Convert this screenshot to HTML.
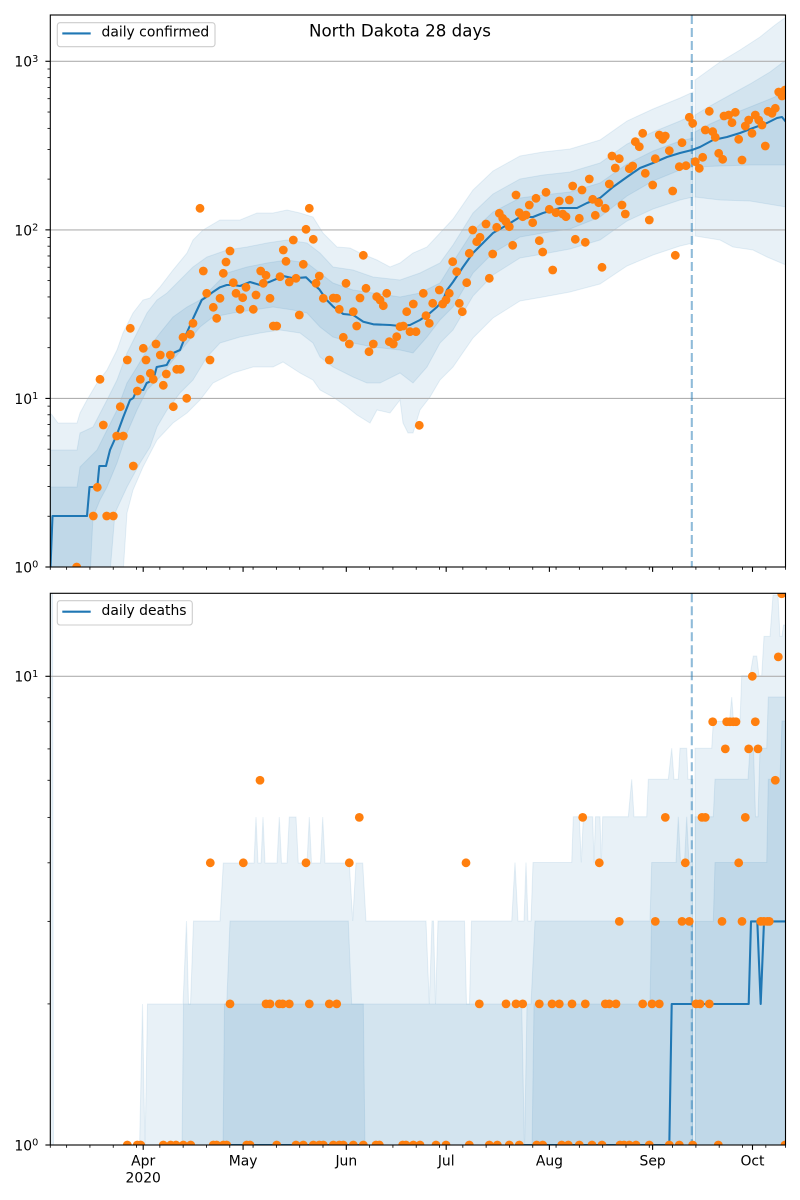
<!DOCTYPE html>
<html><head><meta charset="utf-8"><title>North Dakota 28 days</title>
<style>
html,body{margin:0;padding:0;background:#fff;width:800px;height:1200px;overflow:hidden}
svg{display:block}
text{font-family:"DejaVu Sans","Liberation Sans",sans-serif;fill:#000}
</style></head><body>
<svg id="s" xmlns="http://www.w3.org/2000/svg" width="800" height="1200" viewBox="0 0 800 1200">
<defs>
<clipPath id="c1"><rect x="50.3" y="15" width="735.2" height="552"/></clipPath>
<clipPath id="c2"><rect x="50.3" y="593.3" width="735.2" height="551.7"/></clipPath>
</defs>
<rect width="800" height="1200" fill="#fff"/>
<g id="p1" clip-path="url(#c1)"></g>
<g id="p2" clip-path="url(#c2)"></g>
<g id="ax"></g>
<rect x="50.3" y="15" width="735.2" height="552" fill="none" stroke="#000" stroke-width="1.1"/>
<rect x="50.3" y="593.3" width="735.2" height="551.7" fill="none" stroke="#000" stroke-width="1.1"/>

<text x="400" y="36.3" font-size="16.67" text-anchor="middle">North Dakota 28 days</text>

<rect x="57.3" y="22.7" width="157.7" height="24" rx="2.8" fill="#fff" fill-opacity="0.8" stroke="#cccccc" stroke-width="1.1"/>
<line x1="62.3" y1="33.4" x2="90.7" y2="33.4" stroke="#1f77b4" stroke-width="2.08"/>
<text x="101.5" y="36.6" font-size="13.9">daily confirmed</text>

<rect x="57.3" y="600.7" width="135" height="24.3" rx="2.8" fill="#fff" fill-opacity="0.8" stroke="#cccccc" stroke-width="1.1"/>
<line x1="62.3" y1="611.7" x2="90.7" y2="611.7" stroke="#1f77b4" stroke-width="2.08"/>
<text x="101.5" y="614.9" font-size="13.9">daily deaths</text>

<g font-size="13.9" text-anchor="end">
<text x="38.3" y="66.7">10<tspan font-size="9.73" dy="-4.8">3</tspan></text>
<text x="38.3" y="235.3">10<tspan font-size="9.73" dy="-4.8">2</tspan></text>
<text x="38.3" y="403.8">10<tspan font-size="9.73" dy="-4.8">1</tspan></text>
<text x="38.3" y="572.4">10<tspan font-size="9.73" dy="-4.8">0</tspan></text>
<text x="38.3" y="681.7">10<tspan font-size="9.73" dy="-4.8">1</tspan></text>
<text x="38.3" y="1150.4">10<tspan font-size="9.73" dy="-4.8">0</tspan></text>
</g>
<g font-size="13.9" text-anchor="middle">
<text x="143.2" y="1165.5">Apr</text>
<text x="143.2" y="1182.3">2020</text>
<text x="243.1" y="1165.5">May</text>
<text x="346.3" y="1165.5">Jun</text>
<text x="446.2" y="1165.5">Jul</text>
<text x="549.4" y="1165.5">Aug</text>
<text x="652.6" y="1165.5">Sep</text>
<text x="752.5" y="1165.5">Oct</text>
</g>
</svg>
<script>
(function(){
var NS='http://www.w3.org/2000/svg';
function E(p,t,a){var e=document.createElementNS(NS,t);for(var k in a)e.setAttribute(k,a[k]);p.appendChild(e);return e;}
function P(a){return a.map(function(q){return q[0].toFixed(1)+','+q[1].toFixed(1);}).join(' ');}
var B='#1f77b4',O='#ff7f0e';
var p1=document.getElementById('p1'),p2=document.getElementById('p2'),ax=document.getElementById('ax');
function band(g,up,lo){E(g,'polygon',{points:P(up.concat(lo.slice().reverse())),fill:B,'fill-opacity':'0.1',stroke:B,'stroke-opacity':'0.1','stroke-width':'1'});}
function poly(g,pts){E(g,'polygon',{points:P(pts),fill:B,'fill-opacity':'0.1',stroke:B,'stroke-opacity':'0.1','stroke-width':'1'});}

/* ---------- TOP CHART ---------- */
var oU=[[50,413],[52,415],[58,423],[77,423],[80,413],[87,400],[97,383],[107,370],[117,350],[123,333],[133,313],[143,300],[150,298],[160,287],[173,270],[187,253],[193,240],[203,230],[220,220],[240,220],[257,213],[273,213],[287,210],[300,213],[313,217],[323,233],[337,247],[350,248],[360,253],[377,260],[390,267],[400,263],[413,253],[427,247],[440,233],[453,219],[473,190],[493,171],[520,156],[543,152],[570,149],[600,140],[627,121],[653,109],[680,98],[693,92]];
var oL=[[50,580],[123,580],[123.5,567],[127,513],[133,490],[143,467],[157,440],[173,423],[187,413],[200,400],[213,383],[233,373],[253,367],[273,367],[283,362],[300,373],[313,380],[320,390],[333,397],[347,407],[357,415],[370,423],[377,410],[390,413],[400,400],[403,423],[408,433],[413,433],[420,410],[430,397],[440,380],[453,367],[473,338],[493,318],[520,301],[543,297],[570,292],[600,284],[627,266],[653,255],[680,246],[693,243]];
var mU=[[50,450],[77,450],[80,433],[93,427],[107,400],[117,380],[127,353],[137,333],[147,313],[157,300],[167,293],[180,280],[193,267],[207,257],[227,250],[247,247],[267,243],[287,240],[307,243],[320,253],[333,267],[353,270],[373,277],[400,280],[420,273],[440,263],[453,245],[473,213],[493,194],[520,179],[543,175],[570,172],[600,163],[627,144],[653,132],[680,121],[693,115]];
var mL=[[50,580],[110,580],[110.5,567],[115,513],[127,487],[140,463],[150,447],[157,427],[167,410],[180,393],[193,380],[207,357],[220,343],[240,337],[260,333],[280,330],[300,333],[313,343],[320,357],[333,367],[353,377],[367,383],[380,383],[400,373],[413,383],[427,367],[440,343],[453,330],[473,296],[493,275],[520,258],[543,254],[570,249],[600,240],[627,221],[653,209],[680,200],[693,197]];
var iU=[[50,487],[77,487],[80,467],[97,450],[107,430],[117,410],[127,383],[137,367],[147,350],[160,333],[173,317],[187,307],[200,300],[207,293],[227,273],[247,267],[267,263],[287,260],[307,263],[320,273],[333,283],[353,290],[373,293],[400,297],[420,293],[440,283],[453,262],[473,231],[493,212],[520,198],[543,195],[570,192],[600,183],[627,164],[653,151],[680,141],[693,138]];
var iL=[[50,580],[90,580],[90.5,567],[93,517],[100,500],[107,487],[117,463],[127,433],[137,410],[147,390],[160,377],[173,360],[187,343],[200,327],[213,317],[233,313],[253,310],[273,307],[293,310],[307,313],[320,327],[333,337],[353,343],[373,347],[400,350],[413,353],[427,337],[440,320],[453,307],[473,273],[493,253],[520,237],[543,233],[570,229],[600,217],[627,196],[653,181],[680,170],[693,167]];
band(p1,oU,oL);band(p1,mU,mL);band(p1,iU,iL);
band(p1,[[695,80],[720,62],[740,50],[760,37],[775,25],[786,17]],[[695,236],[720,240],[733,247],[753,250],[767,257],[786,265]]);
band(p1,[[695,115],[710,106],[730,95],[750,84],[770,72],[786,60]],[[695,197],[720,200],[750,201],[786,207]]);
band(p1,[[695,132],[710,124],[730,115],[750,107],[770,99],[786,92]],[[695,167],[720,166],[750,165],[786,165]]);

[398.4,229.9,61.3].forEach(function(y){E(p1,'line',{x1:50.3,y1:y,x2:785.5,y2:y,stroke:'#b0b0b0','stroke-width':'1.1'});});
E(p1,'line',{x1:691.8,y1:15,x2:691.8,y2:567,stroke:B,'stroke-opacity':'0.5','stroke-width':'2.08','stroke-dasharray':'9 4'});

var med=[[50.5,567],[52.5,516],[87,516],[89.5,487],[97.3,487],[99.3,466],[106,466],[110,450],[116.7,435],[123.3,417],[130,400],[133.3,398],[136.7,390],[143.3,390],[146.7,383],[153.3,380],[156.7,367],[166.7,365],[173.3,353],[180,350],[186.7,333],[193.3,318],[201.7,300],[206.7,296.7],[213.3,291.7],[220,287.3],[226.7,285],[233.3,285],[240,286],[250,282],[260,285],[270,281.7],[283.3,276],[293.3,278.3],[306,277.3],[311.7,282.7],[319.3,289.3],[326.7,300],[333.3,306.7],[343.3,314],[353.3,315],[363.3,321.7],[373.3,324.3],[390,325],[400,326],[410,325],[420,320],[430,313],[437,307],[443,300],[447,290],[453,282],[463,267],[473,253],[483,243],[493,233],[507,225],[520,217],[533,217],[543,213],[560,208],[577,208],[587,203],[600,198],[613,187],[627,177],[640,168],[653,163],[667,157],[680,153],[692,150],[700,147],[713,140],[727,137],[740,133],[753,128],[767,123],[777,118],[782,117],[786,122]];
E(p1,'polyline',{points:P(med),fill:'none',stroke:B,'stroke-width':'2.08','stroke-linejoin':'round'});

var T=[[76.7,567],[93.3,516],[97.3,487.3],[100,379.3],[103.3,425],[106.7,516],[113.3,516],[116.7,436],[120.3,406.7],[123.3,436],[127.3,360],[130.3,328.3],[133.3,466],[137.3,391],[140.3,379.3],[143.3,348.3],[146,360],[150.3,373.3],[153.3,379.3],[156,344],[160.3,355],[163.3,385.3],[166.3,374],[170.3,355],[173.3,406.7],[176.7,369.3],[180.3,369.3],[183,337.3],[186.7,398.3],[190.3,334.3],[193,323.3],
[200,208.3],[203.3,271],[206.7,293.3],[210,360],[213.3,307.3],[216.7,318.3],[220,298.3],[223.3,273.3],[226,262],[230,251],[233.3,282.7],[236,293.3],[240,309.3],[242.7,297.7],[246,287.3],[253.3,309.3],[256,295],[260.7,271],[263.3,283.3],[266,275.3],[270,298.3],[273.3,326],[276.7,326],[280,276.7],[283.3,250],[286,261.3],[289.3,282],[293.3,240],[296,278.3],[299.3,315],[303.3,264.3],[306,229.3],[309.3,208.3],[313.3,239.3],[316,283.3],[319.3,276],[323.3,298.3],[329.3,360],[333.3,298],[336.7,298.3],[339.3,309.3],[343.3,337.3],[346,283.3],[349.3,344],[353.3,311.7],[356.7,326],[360,298],[363.3,255.3],[366,288.3],[369,351.7],[373.3,344],[376.7,296.7],[380,300],[383.3,305.7],[386.7,293.3],[389.3,341.7],[393.3,344],[396.7,336.7],[400,326.7],
[403.3,326],[406.7,311.7],[410,331.7],[413.3,304],[416,331.7],[419.3,425.3],[423.3,293.3],[426,315.7],[429.3,323.3],[432.7,303.3],[439.3,290],[442.7,304],[446,300],[449.3,293.3],[452.7,261.7],[456.7,271.7],[459.3,303.3],[462.3,311.7],[466.7,282.7],[469.3,253.3],[472.7,230],[476.7,241.7],[480,237.3],[486,224],[489.3,278.3],[492.7,254],[496.7,227.3],[499.3,213.3],[502.7,218.3],[506,221.7],[509.3,226.7],[512.7,245.3],[516,195],[519.3,212.7],[522.7,216.7],[526,215],[529.3,205],[532.7,222.7],[536,198.3],[539.3,240.7],[542.7,252],[546,192.3],[549.3,209.3],[552.7,270],[556,212.7],[559.3,201],[562.7,214],[566,216.7],[569.3,200],[572.7,186],[575.3,239.3],[579.3,218.3],[582,190],[585.3,242.3],[589.3,179],[592.7,199.3],[595.3,215.3],[598.7,202.7],[602,267.3],[605.3,208.3],[609.3,184],[612,156],[615.3,168],[619.3,158.7],[622,205],[625.3,214],[629.3,168.7],[632.7,166],[635.3,141.7],[639.3,146.7],[642.7,133.3],[645.3,173.3],[649.3,220],[652.7,185],[655.3,158.7],[659.3,135],[662.7,139.3],[665.3,136],[669.3,150.7],[672.7,191],[675.3,255.3],[679.3,166.7],[682,142.7],[686,165.7],[689.3,117.3],[692.7,123.3],[695.3,161.7],[699.3,168.3],[702.7,157.3],[705.3,130],[709.3,111.3],[712.7,131.7],[715.3,137.3],[718.7,153.3],[722.7,159.3],[724,116],[728.7,115],[732,122.7],[735.3,112.3],[738.7,139.3],[742,160],[745.3,126],[748.7,120],[752,133.3],[755.3,115],[758.7,120],[762,125],[765.3,146],[768,111.3],[772,113.3],[775.3,108.3],[778.7,92],[782,96],[785,90]];
T.forEach(function(q){E(p1,'circle',{cx:q[0],cy:q[1],r:'4.4',fill:O});});

/* ---------- BOTTOM CHART ---------- */
poly(p2,[[50,590],[52.5,590],[53.5,1150],[139.5,1150],[142.5,1004],[145,1150],[147.5,1004],[183,1004],[186.5,921],[188.5,1004],[190.5,1004],[193.5,921],[220,921],[223.3,863],[254,863],[256,817],[258,863],[261,863],[263,817],[265,863],[277,863],[279.3,817],[281.5,863],[287,863],[289.3,817],[296,817],[298.3,863],[307,863],[309.3,817],[311.5,863],[320.5,863],[322.7,817],[325,863],[349.3,863],[352.7,921],[356,863],[362.7,863],[366,921],[426,921],[429.3,1004],[432,921],[433.5,921],[435.5,1004],[438,921],[464.5,921],[466.5,1004],[469.5,1004],[471.5,921],[511.7,921],[515,862.5],[518,921],[524,921],[526,862.5],[528,921],[531,921],[533,862.5],[571.7,862.5],[573.3,816.8],[579.3,816.8],[581.3,862.5],[583.3,816.8],[592.7,816.8],[594,862.5],[595.5,816.8],[600,816.8],[601.3,862.5],[602.7,816.8],[628.3,816.8],[631.7,779.3],[634,816.8],[646.7,816.8],[648.3,779.3],[668.3,779.3],[671.7,748.2],[674,779.3],[678.3,779.3],[680,748.2],[686.7,748.2],[688,779.3],[693,779.3],[693,1150],[50,1150]]);
poly(p2,[[695,1150],[695,748.2],[711.7,748.2],[713.3,721.4],[729.5,721.4],[731.7,697],[733.5,721.4],[740,721.4],[741.7,675.7],[750,675.7],[753.3,656],[756.7,656],[759,675.7],[761.7,675.7],[764,636.4],[770,636.4],[773,595],[778,595],[780,636.4],[782,636.4],[783.5,625],[786,625],[786,1150]]);
poly(p2,[[182,1150],[183.5,1004],[226.7,1004],[230,921],[348.3,921],[351.7,1004],[521.7,1004],[524.5,1150],[527,1004],[531,1004],[535,921],[650,921],[651.7,862.5],[676,862.5],[678.3,816.8],[680.5,862.5],[684.5,862.5],[686.7,816.8],[689,862.5],[693,862.5],[693,1150]]);
poly(p2,[[695,1150],[695,816.8],[713.3,816.8],[715,779.3],[748,779.3],[750,748.2],[753.5,748.2],[755.5,816.8],[758,816.8],[760,748.2],[766.7,748.2],[768.3,697],[786,697],[786,1150]]);
poly(p2,[[223,1150],[224.5,1004],[363.3,1004],[365,1150],[532,1150],[534,1004],[650,1004],[651.5,921.4],[693,921.4],[693,1150]]);
poly(p2,[[695,1150],[695,921.4],[713.3,921.4],[715,862.5],[766.7,862.5],[768.3,779.3],[780,779.3],[782,721],[786,721],[786,1150]]);

E(p2,'line',{x1:50.3,y1:676.3,x2:785.5,y2:676.3,stroke:'#b0b0b0','stroke-width':'1.1'});
E(p2,'line',{x1:691.8,y1:593.3,x2:691.8,y2:1145,stroke:B,'stroke-opacity':'0.5','stroke-width':'2.08','stroke-dasharray':'9 4'});
E(p2,'polyline',{points:P([[223,1145],[365,1145]]),fill:'none',stroke:B,'stroke-width':'2.08'});
E(p2,'polyline',{points:P([[523,1145],[669.3,1145],[671.7,1004],[748.7,1004],[751,921.4],[757.3,921.4],[760.7,1004],[764,921.4],[786,921.4]]),fill:'none',stroke:B,'stroke-width':'2.08','stroke-linejoin':'round'});

function yb(v){return 1145-468.7*Math.log10(v);}
var BD={1:[127.3,137.3,140.7,163.3,170.7,176,183.3,190.7,213.3,216.7,223.3,226.7,246.7,250,276.7,296,303.3,313.3,319.3,323.3,333.3,339.3,343.3,353.3,363.3,376,379.3,402.7,406,413.3,420,436,446,469.3,489.3,497.3,509.3,519.3,536.7,542.7,561.7,568.3,579.3,592,602,620,624,629.3,636,649.3,669.3,679.3,692.7,718.3,785],
2:[230,266,270,279.3,282.7,289.3,309.3,329.3,336.7,479.3,506,516,522.7,539.3,552,559.3,572,585.3,605.3,609.3,616,642.7,652,659.3,696,700,709.3],
3:[619.3,655.3,682,689.3,722,742,760.7,764,767.3,769.3],
4:[210.3,243.3,306,349.3,466,599.3,685.3,738.7],
5:[359.3,582.7,665.3,702,705.3,745.3],
6:[260,775.3],7:[725.3,748.7,758],8:[712.7,726.7,730,733.3,736,755.3],10:[752.3],11:[778.3],15:[781.7]};
for(var v in BD){var yy=yb(+v);BD[v].forEach(function(x){E(p2,'circle',{cx:x,cy:yy,r:'4.4',fill:O});});}

/* ---------- TICKS ---------- */
function tk(x1,y1,x2,y2,w){E(ax,'line',{x1:x1,y1:y1,x2:x2,y2:y2,stroke:'#000','stroke-width':w});}
for(var k=0;k<4;k++){var yM=567-168.57*k;tk(50.3,yM,45.4,yM,'1.1');
 for(var m=2;m<10;m++){var vv=m*Math.pow(10,k);if(vv>1880)break;var yy2=567-168.57*Math.log10(vv);tk(50.3,yy2,47.5,yy2,'0.83');}}
[1145,676.3].forEach(function(y){tk(50.3,y,45.4,y,'1.1');});
for(var k2=0;k2<2;k2++){for(var m2=2;m2<10;m2++){var v2=m2*Math.pow(10,k2);if(v2>15)break;var y3=yb(v2);tk(50.3,y3,47.5,y3,'0.83');}}
function xd(d){return 143.2+3.3295*d;}
var maj=[0,30,61,91,122,153,183];
[567,1145].forEach(function(yb0){
 maj.forEach(function(d){var x=xd(d);tk(x,yb0,x,yb0+4.86,'1.1');});
 for(var d=-23;d<=192;d+=7){if(maj.indexOf(d)>=0)continue;var x=xd(d);tk(x,yb0,x,yb0+2.78,'0.83');}
 tk(50.3,yb0,50.3,yb0+2.78,'0.83');tk(785.5,yb0,785.5,yb0+2.78,'0.83');
});
})();
</script>
</body></html>
